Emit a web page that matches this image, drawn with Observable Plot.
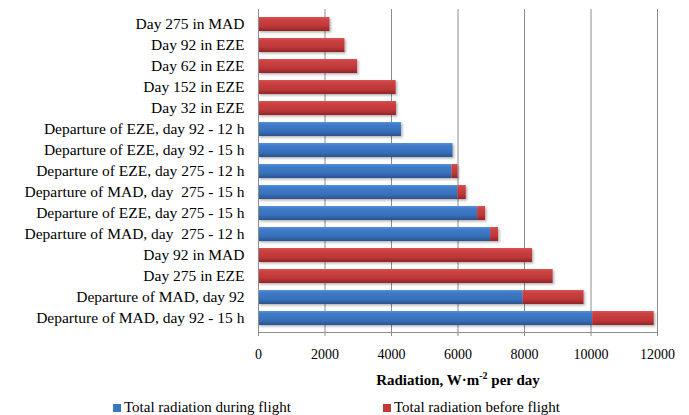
<!DOCTYPE html>
<html>
<head>
<meta charset="utf-8">
<script src="https://cdn.jsdelivr.net/npm/d3@7"></script>
<script src="https://cdn.jsdelivr.net/npm/@observablehq/plot@0.6"></script>
<style>
  body { margin: 0; background: #fff; color: #000; font-family: Tinos, 'Liberation Serif', 'Times New Roman', serif; }
  #wrap { position: relative; width: 689px; height: 415px; overflow: hidden; }
  svg text { white-space: pre; }
  #xtitle { position: absolute; left: 258px; width: 400px; top: 366px; text-align: center;
            font-weight: bold; font-size: 15px; line-height: 28px; }
  #xtitle sup { font-size: 10px; line-height: 0; }
  .leg { position: absolute; top: 396px; font-size: 15px; line-height: 22px; white-space: nowrap; }
  .leg i { display: inline-block; width: 8px; height: 8px; margin-right: 3px; vertical-align: 0px; }
</style>
</head>
<body>
<div id="wrap">
  <div id="chart"></div>
  <div id="xtitle">Radiation, W·m<sup>-2</sup> per day</div>
  <div class="leg" style="left:113px"><i style="background:#3b74c0"></i>Total radiation during flight</div>
  <div class="leg" style="left:383px"><i style="background:#c0393b"></i>Total radiation before flight</div>
</div>
<script>
// Categories, listed top to bottom
const categories = [
  "Day 275 in MAD",
  "Day 92 in EZE",
  "Day 62 in EZE",
  "Day 152 in EZE",
  "Day 32 in EZE",
  "Departure of EZE, day 92 - 12 h",
  "Departure of EZE, day 92 - 15 h",
  "Departure of EZE, day 275 - 12 h",
  "Departure of MAD, day  275 - 15 h",
  "Departure of EZE, day 275 - 15 h",
  "Departure of MAD, day  275 - 12 h",
  "Day 92 in MAD",
  "Day 275 in EZE",
  "Departure of MAD, day 92",
  "Departure of MAD, day 92 - 15 h"
];

// Radiation, W·m-2 per day
const duringFlight = [0, 0, 0, 0, 0, 4300, 5850, 5820, 6000, 6590, 6980, 0, 0, 7960, 10050];
const beforeFlight = [2150, 2600, 2980, 4140, 4150, 0, 0, 180, 250, 240, 240, 8240, 8860, 1830, 1850];

const seriesNames = ["Total radiation during flight", "Total radiation before flight"];
const xTicks = [0, 2000, 4000, 6000, 8000, 10000, 12000];

// Long format: during-flight segment first so it sits at the base of each stack
const rows = [];
categories.forEach((c, i) => {
  rows.push({ category: c, series: seriesNames[0], value: duringFlight[i] });
  rows.push({ category: c, series: seriesNames[1], value: beforeFlight[i] });
});
const data = rows.filter(d => d.value > 0);

const gridColor = "#8c8c8c";
const serif = "Tinos, 'Liberation Serif', 'Times New Roman', serif";

const chart = Plot.plot({
  width: 689,
  height: 362,
  marginLeft: 258,
  marginRight: 32,
  marginTop: 9,
  marginBottom: 30,
  style: { fontFamily: serif, fontSize: "14px", color: "#000", background: "#fff" },
  x: { domain: [0, 12000], label: null },
  y: { domain: categories, label: null, paddingInner: 0.35, paddingOuter: 0.175 },
  color: { domain: seriesNames, range: ["url(#grad-during)", "url(#grad-before)"] },
  marks: [
    Plot.gridX(xTicks, { stroke: gridColor, strokeOpacity: 1, strokeWidth: 1 }),
    Plot.barX(data, Plot.stackX({ x: "value", y: "category", fill: "series" })),
    Plot.ruleX([0], { stroke: gridColor, strokeWidth: 1 }),
    Plot.frame({ anchor: "bottom", stroke: gridColor, strokeWidth: 1 }),
    Plot.axisX(xTicks, { tickSize: 4, tickPadding: 13, stroke: gridColor, fill: "#000", fontSize: 14, tickFormat: d => String(d), label: null }),
    Plot.axisY({ tickSize: 0, tickPadding: 14, fontSize: 15.5, fill: "#000", label: null })
  ]
});

// Gradients and a soft drop shadow for the bars
const svg = d3.select(chart);
const defs = svg.insert("defs", ":first-child");
function gradient(id, stops) {
  const g = defs.append("linearGradient").attr("id", id)
    .attr("x1", 0).attr("y1", 0).attr("x2", 0).attr("y2", 1);
  stops.forEach(([o, c]) => g.append("stop").attr("offset", o).attr("stop-color", c));
}
gradient("grad-during", [[0, "#5590d8"], [0.2, "#3f7bc8"], [0.65, "#3870ba"], [1, "#28548f"]]);
gradient("grad-before", [[0, "#dc5452"], [0.2, "#cb4140"], [0.65, "#bd3839"], [1, "#922627"]]);
const f = defs.append("filter").attr("id", "bar-shadow")
  .attr("x", "-5%").attr("y", "-10%").attr("width", "112%").attr("height", "125%");
f.append("feDropShadow").attr("dx", 1.5).attr("dy", 1.5).attr("stdDeviation", 1)
  .attr("flood-color", "#000").attr("flood-opacity", 0.3);
svg.selectAll('g[aria-label="bar"]').attr("filter", "url(#bar-shadow)");
svg.selectAll("text").attr("font-family", "Tinos");

document.getElementById("chart").appendChild(chart);
</script>
</body>
</html>
